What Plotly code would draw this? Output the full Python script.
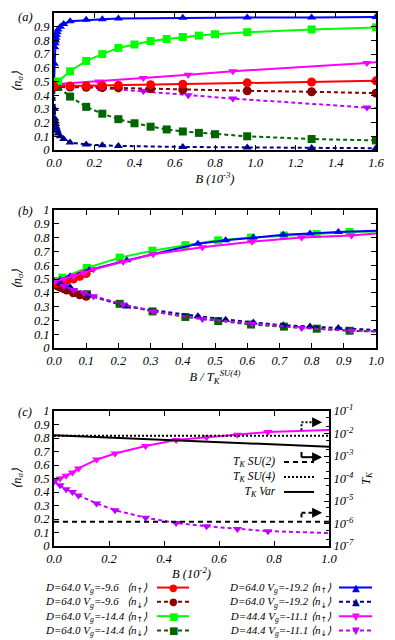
import plotly.graph_objects as go

FONT = "Liberation Serif"
RED, DRED = "#ff0000", "#8b0000"
GREEN, DGREEN = "#00ff00", "#006400"
BLUE, DBLUE = "#0000ff", "#00008b"
MAG, DMAG = "#ff00ff", "#c000ff"

# ---------------- data: panel (a)  (B in 10^-3) ----------------
a_red_x = [0, 0.08, 0.16, 0.24, 0.32, 0.48, 0.64, 0.96, 1.28, 1.6]
a_red_up = [0.465, 0.467, 0.468, 0.47, 0.472, 0.477, 0.48, 0.49, 0.496, 0.505]
a_red_dn = [0.46, 0.46, 0.458, 0.455, 0.453, 0.447, 0.44, 0.432, 0.425, 0.415]

a_green_x = [0, 0.02, 0.08, 0.16, 0.24, 0.32, 0.40, 0.48, 0.56, 0.64, 0.72, 0.80, 0.96, 1.28, 1.6]
a_green_up = [0.49, 0.50, 0.575, 0.65, 0.70, 0.745, 0.77, 0.795, 0.81, 0.825, 0.835, 0.845, 0.86, 0.88, 0.895]
a_green_dn = [0.49, 0.46, 0.39, 0.315, 0.265, 0.225, 0.195, 0.17, 0.15, 0.135, 0.125, 0.115, 0.10, 0.08, 0.07]

a_blue_x = [0, 0.002, 0.004, 0.006, 0.008, 0.01, 0.012, 0.016, 0.02, 0.032, 0.048, 0.08,
            0.16, 0.24, 0.32, 0.64, 0.96, 1.28, 1.6]
a_blue_up = [0.49, 0.63, 0.75, 0.78, 0.80, 0.82, 0.84, 0.86, 0.88, 0.90, 0.92, 0.94,
             0.95, 0.955, 0.96, 0.965, 0.967, 0.968, 0.97]
a_blue_dn = [0.49, 0.30, 0.23, 0.21, 0.19, 0.17, 0.155, 0.14, 0.12, 0.10, 0.08, 0.055,
             0.04, 0.035, 0.03, 0.022, 0.018, 0.015, 0.013]

a_mag_x = [0, 0.222, 0.444, 0.667, 0.889, 1.555]
a_mag_up = [0.48, 0.50, 0.525, 0.55, 0.575, 0.635]
a_mag_dn = [0.48, 0.455, 0.43, 0.40, 0.375, 0.31]
a_mag_tail_x = [1.555, 1.6]
a_mag_tail_up = [0.635, 0.64]
a_mag_tail_dn = [0.31, 0.305]

# ---------------- data: panel (b)  (B / T_K^SU(4)) ----------------
b_red_x = [0, 0.01, 0.02, 0.03, 0.04, 0.06, 0.08, 0.1]
b_red_up = [0.465, 0.47, 0.475, 0.48, 0.49, 0.50, 0.52, 0.54]
b_red_dn = [0.46, 0.45, 0.44, 0.43, 0.42, 0.40, 0.385, 0.375]

b_green_x = [0, 0.026, 0.102, 0.204, 0.306, 0.408, 0.51, 0.612, 0.714, 0.816, 0.918]
b_green_up = [0.485, 0.51, 0.58, 0.655, 0.705, 0.745, 0.78, 0.80, 0.815, 0.825, 0.84]
b_green_dn = [0.485, 0.46, 0.39, 0.32, 0.265, 0.225, 0.195, 0.17, 0.155, 0.14, 0.125]
b_green_tail_x = [0.918, 1.0]
b_green_tail_up = [0.84, 0.845]
b_green_tail_dn = [0.125, 0.12]

b_blue_x = [0, 0.02, 0.05, 0.11, 0.226, 0.447, 0.533, 0.619, 0.712, 0.795, 0.883]
b_blue_up = [0.48, 0.495, 0.52, 0.565, 0.635, 0.755, 0.78, 0.80, 0.82, 0.83, 0.84]
b_blue_dn = [0.48, 0.465, 0.44, 0.38, 0.30, 0.23, 0.205, 0.185, 0.165, 0.155, 0.145]
b_blue_tail_x = [0.883, 1.0]
b_blue_tail_up = [0.84, 0.85]
b_blue_tail_dn = [0.145, 0.13]

b_mag_x = [0, 0.031, 0.061, 0.093, 0.123, 0.215, 0.308, 0.461, 0.615, 0.769, 0.924]
b_mag_up = [0.48, 0.50, 0.52, 0.545, 0.57, 0.625, 0.68, 0.73, 0.77, 0.80, 0.815]
b_mag_dn = [0.48, 0.45, 0.42, 0.40, 0.375, 0.315, 0.265, 0.21, 0.175, 0.145, 0.125]
b_mag_tail_x = [0.924, 1.0]
b_mag_tail_up = [0.815, 0.83]
b_mag_tail_dn = [0.125, 0.12]

# ---------------- data: panel (c)  (B in 10^-2) ----------------
c_mag_x = [0, 0.022, 0.044, 0.067, 0.089, 0.155, 0.222, 0.333, 0.444, 0.555, 0.667, 0.778]
c_mag_up = [0.48, 0.50, 0.52, 0.545, 0.575, 0.64, 0.685, 0.74, 0.785, 0.805, 0.825, 0.845]
c_mag_dn = [0.48, 0.45, 0.42, 0.40, 0.375, 0.315, 0.265, 0.21, 0.17, 0.146, 0.126, 0.11]
c_mag_tail_x = [0.778, 1.0]
c_mag_tail_up = [0.845, 0.86]
c_mag_tail_dn = [0.11, 0.096]

tk_B = [0.0, 1.0]
tk_su2 = [1.2e-6, 1.2e-6]
tk_su4 = [7.9e-3, 7.9e-3]
tk_var = [8.3e-3, 2.6e-3]

# tick labels
ylab_vals = [i / 10 for i in range(11)]
ylab_text = ["0", "0.1", "0.2", "0.3", "0.4", "0.5", "0.6", "0.7", "0.8", "0.9", "1"]
xa_vals = [0, 0.2, 0.4, 0.6, 0.8, 1.0, 1.2, 1.4, 1.6]
xa_text = ["0.0", "0.2", "0.4", "0.6", "0.8", "1.0", "1.2", "1.4", "1.6"]
xb_vals = [i / 10 for i in range(11)]
xb_text = ["0.0", "0.1", "0.2", "0.3", "0.4", "0.5", "0.6", "0.7", "0.8", "0.9", "1.0"]
xc_vals = [0, 0.2, 0.4, 0.6, 0.8, 1.0]
xc_text = ["0.0", "0.2", "0.4", "0.6", "0.8", "1.0"]
tk_vals = [1e-7, 1e-6, 1e-5, 1e-4, 1e-3, 1e-2, 1e-1]
tk_text = ["10<sup>-7</sup>", "10<sup>-6</sup>", "10<sup>-5</sup>", "10<sup>-4</sup>",
           "10<sup>-3</sup>", "10<sup>-2</sup>", "10<sup>-1</sup>"]

UP = "<span style='font-family:DejaVu Sans'>↑</span>"
DN = "<span style='font-family:DejaVu Sans'>↓</span>"
legend_labels = {
    "r_up": "D=64.0 V<sub>g</sub>=-9.6\u00a0\u00a0 ⟨n<sub>" + UP + "</sub>⟩",
    "r_dn": "D=64.0 V<sub>g</sub>=-9.6\u00a0\u00a0 ⟨n<sub>" + DN + "</sub>⟩",
    "g_up": "D=64.0 V<sub>g</sub>=-14.4 ⟨n<sub>" + UP + "</sub>⟩",
    "g_dn": "D=64.0 V<sub>g</sub>=-14.4 ⟨n<sub>" + DN + "</sub>⟩",
    "b_up": "D=64.0 V<sub>g</sub>=-19.2 ⟨n<sub>" + UP + "</sub>⟩",
    "b_dn": "D=64.0 V<sub>g</sub>=-19.2 ⟨n<sub>" + DN + "</sub>⟩",
    "m_up": "D=44.4 V<sub>g</sub>=-11.1 ⟨n<sub>" + UP + "</sub>⟩",
    "m_dn": "D=44.4 V<sub>g</sub>=-11.1 ⟨n<sub>" + DN + "</sub>⟩",
}
tk_labels = ["T<sub>K</sub> SU(2)", "T<sub>K</sub> SU(4)", "T<sub>K</sub> Var"]

DASH = "4px,3px"
style = {
    "r_up": (RED, "circle", "solid", 9, "●"),
    "r_dn": (DRED, "circle", DASH, 9, "●"),
    "g_up": (GREEN, "square", "solid", 8, "■"),
    "g_dn": (DGREEN, "square", DASH, 8, "■"),
    "b_up": (BLUE, "triangle-up", "solid", 8, "▲"),
    "b_dn": (DBLUE, "triangle-up", DASH, 8, "▲"),
    "m_up": (MAG, "triangle-down", "solid", 8, "▼"),
    "m_dn": (DMAG, "triangle-down", DASH, 8, "▼"),
}

fig = go.Figure()


def add(x, y, key, xa, ya, tail_x=None, tail_y=None):
    col, sym, dash, size, _ = style[key]
    fig.add_trace(go.Scatter(x=x, y=y, mode="lines+markers", xaxis=xa, yaxis=ya,
                             line=dict(color=col, width=2, dash=dash),
                             marker=dict(color=col, symbol=sym, size=size, line=dict(width=0)),
                             showlegend=False, hoverinfo="skip"))
    if tail_x is not None:
        fig.add_trace(go.Scatter(x=tail_x, y=tail_y, mode="lines", xaxis=xa, yaxis=ya,
                                 line=dict(color=col, width=2, dash=dash),
                                 showlegend=False, hoverinfo="skip"))


# panel (a)
add(a_mag_x, a_mag_dn, "m_dn", "x", "y", a_mag_tail_x, a_mag_tail_dn)
add(a_mag_x, a_mag_up, "m_up", "x", "y", a_mag_tail_x, a_mag_tail_up)
add(a_blue_x, a_blue_dn, "b_dn", "x", "y")
add(a_blue_x, a_blue_up, "b_up", "x", "y")
add(a_green_x, a_green_dn, "g_dn", "x", "y")
add(a_green_x, a_green_up, "g_up", "x", "y")
add(a_red_x, a_red_dn, "r_dn", "x", "y")
add(a_red_x, a_red_up, "r_up", "x", "y")

# panel (b)
add(b_green_x, b_green_dn, "g_dn", "x2", "y2", b_green_tail_x, b_green_tail_dn)
add(b_green_x, b_green_up, "g_up", "x2", "y2", b_green_tail_x, b_green_tail_up)
add(b_red_x, b_red_dn, "r_dn", "x2", "y2")
add(b_red_x, b_red_up, "r_up", "x2", "y2")
add(b_blue_x, b_blue_dn, "b_dn", "x2", "y2", b_blue_tail_x, b_blue_tail_dn)
add(b_blue_x, b_blue_up, "b_up", "x2", "y2", b_blue_tail_x, b_blue_tail_up)
add(b_mag_x, b_mag_dn, "m_dn", "x2", "y2", b_mag_tail_x, b_mag_tail_dn)
add(b_mag_x, b_mag_up, "m_up", "x2", "y2", b_mag_tail_x, b_mag_tail_up)

# panel (c)
add(c_mag_x, c_mag_up, "m_up", "x3", "y3", c_mag_tail_x, c_mag_tail_up)
add(c_mag_x, c_mag_dn, "m_dn", "x3", "y3", c_mag_tail_x, c_mag_tail_dn)
fig.add_trace(go.Scatter(x=tk_B, y=tk_su2, mode="lines", xaxis="x3", yaxis="y4",
                         line=dict(color="black", width=2, dash="5px,4px"), showlegend=False))
fig.add_trace(go.Scatter(x=tk_B, y=tk_su4, mode="lines", xaxis="x3", yaxis="y4",
                         line=dict(color="black", width=2, dash="2px,2px"), showlegend=False))
fig.add_trace(go.Scatter(x=tk_B, y=tk_var, mode="lines", xaxis="x3", yaxis="y4",
                         line=dict(color="black", width=2), showlegend=False))

TF = dict(family=FONT, size=12.5, color="black", style="italic")
OFF = 8                      # page body margin
W, H = 395 - OFF, 640 - OFF
ML, MR = 54 - OFF, 19
PW = W - ML - MR


def py(p):                   # reference pixel y -> paper y
    return 1 - (p - OFF) / H


def px(p):                   # reference pixel x -> paper x
    return (p - OFF - ML) / PW


common = dict(showline=True, linewidth=2, linecolor="black", ticks="inside", ticklen=5,
              tickwidth=1, tickcolor="black", showgrid=False, zeroline=False,
              tickfont=TF, automargin=False)

fig.update_layout(
    width=W, height=H, margin=dict(l=ML, r=MR, t=0, b=0),
    paper_bgcolor="white", plot_bgcolor="white", showlegend=False,
    font=TF,
    xaxis=dict(common, domain=[0, 1], anchor="y", range=[0, 1.6], mirror="ticks",
               tickvals=xa_vals, ticktext=xa_text,
               title=dict(text="B (10<sup>-3</sup>)", font=TF, standoff=4)),
    yaxis=dict(common, domain=[py(150), py(13)], anchor="x", range=[0, 1], mirror="ticks",
               tickvals=ylab_vals, ticktext=ylab_text,
               title=dict(text="⟨n<sub>σ</sub>⟩", font=TF, standoff=10)),
    xaxis2=dict(common, domain=[0, 1], anchor="y2", range=[0, 1], mirror="ticks",
                tickvals=xb_vals, ticktext=xb_text,
                title=dict(text="B / T<sub>K</sub><sup>SU(4)</sup>", font=TF, standoff=4)),
    yaxis2=dict(common, domain=[py(348), py(210)], anchor="x2", range=[0, 1], mirror="ticks",
                tickvals=ylab_vals, ticktext=ylab_text,
                title=dict(text="⟨n<sub>σ</sub>⟩", font=TF, standoff=10)),
    xaxis3=dict(common, domain=[0, px(329)], anchor="y3", range=[0, 1], mirror="ticks",
                tickvals=xc_vals, ticktext=xc_text,
                title=dict(text="B (10<sup>-2</sup>)", font=TF, standoff=4)),
    yaxis3=dict(common, domain=[py(546), py(411)], anchor="x3", range=[0, 1], mirror=True,
                tickvals=ylab_vals, ticktext=ylab_text,
                title=dict(text="⟨n<sub>σ</sub>⟩", font=TF, standoff=10)),
    yaxis4=dict(common, overlaying="y3", side="right", anchor="x3", type="log",
                range=[-7, -1], tickvals=tk_vals, ticktext=tk_text,
                minor=dict(ticks="inside", ticklen=3, tickcolor="black", showgrid=False),
                title=dict(text="T<sub>K</sub>", font=TF, standoff=8)),
)

ann = []
shapes = []
for lab, ypix in [("(a)", 17), ("(b)", 211), ("(c)", 412)]:
    ann.append(dict(text=lab, x=px(25), y=py(ypix), xref="paper", yref="paper",
                    showarrow=False, font=TF, xanchor="center", yanchor="middle"))

# panel (c) inner key (one multi-line text block + sample lines)
KF = dict(TF, size=11.5)
KLS = 1.3 * KF["size"]
kc = 477
ann.append(dict(text="<br>".join(tk_labels), x=px(278), y=py(kc), xref="paper", yref="paper",
                showarrow=False, font=KF, xanchor="right", yanchor="middle", align="right"))
for i, dash in enumerate(["5px,4px", "2px,2px", "solid"]):
    yp = kc + (i - 1) * KLS
    shapes.append(dict(type="line", x0=px(284), x1=px(314), y0=py(yp), y1=py(yp),
                       xref="paper", yref="paper", line=dict(color="black", width=2, dash=dash)))

# arrows pointing to right axis
for y0, y1, dash in [(0.858, 0.916, "2px,2px"), (0.697, 0.658, "solid"), (0.212, 0.247, "4px,3px")]:
    shapes.append(dict(type="line", x0=0.9, x1=0.9, y0=y0, y1=y1, xref="x3", yref="y3",
                       line=dict(color="black", width=2, dash=dash)))
    shapes.append(dict(type="line", x0=0.9, x1=0.95, y0=y1, y1=y1, xref="x3", yref="y3",
                       line=dict(color="black", width=2, dash=dash)))
    ann.append(dict(text="", x=0.975, y=y1, ax=0.94, ay=y1, xref="x3", yref="y3",
                    axref="x3", ayref="y3", showarrow=True, arrowhead=2, arrowsize=1,
                    arrowwidth=2, arrowcolor="black"))

# bottom key (one multi-line text block per column + samples)
LF = dict(TF, size=11)
LS = 1.3 * LF["size"]
lc = 609
cols = [(["r_up", "r_dn", "g_up", "g_dn"], 150, 157, 189),
        (["b_up", "b_dn", "m_up", "m_dn"], 334, 339, 372)]
for keys, tx, s0, s1 in cols:
    ann.append(dict(text="<br>".join(legend_labels[k] for k in keys), x=px(tx), y=py(lc),
                    xref="paper", yref="paper", showarrow=False, font=LF, xanchor="right",
                    yanchor="middle", align="right"))
    for i, key in enumerate(keys):
        col, sym, dash, size, glyph = style[key]
        yp = lc + (i - 1.5) * LS
        shapes.append(dict(type="line", x0=px(s0), x1=px(s1), y0=py(yp), y1=py(yp),
                           xref="paper", yref="paper",
                           line=dict(color=col, width=2, dash=dash)))
        ann.append(dict(text=glyph, x=px((s0 + s1) / 2), y=py(yp), xref="paper",
                        yref="paper", showarrow=False, xanchor="center", yanchor="middle",
                        font=dict(family="DejaVu Sans", size=10, color=col)))

fig.update_layout(annotations=ann, shapes=shapes)
fig.write_html("out.html")
